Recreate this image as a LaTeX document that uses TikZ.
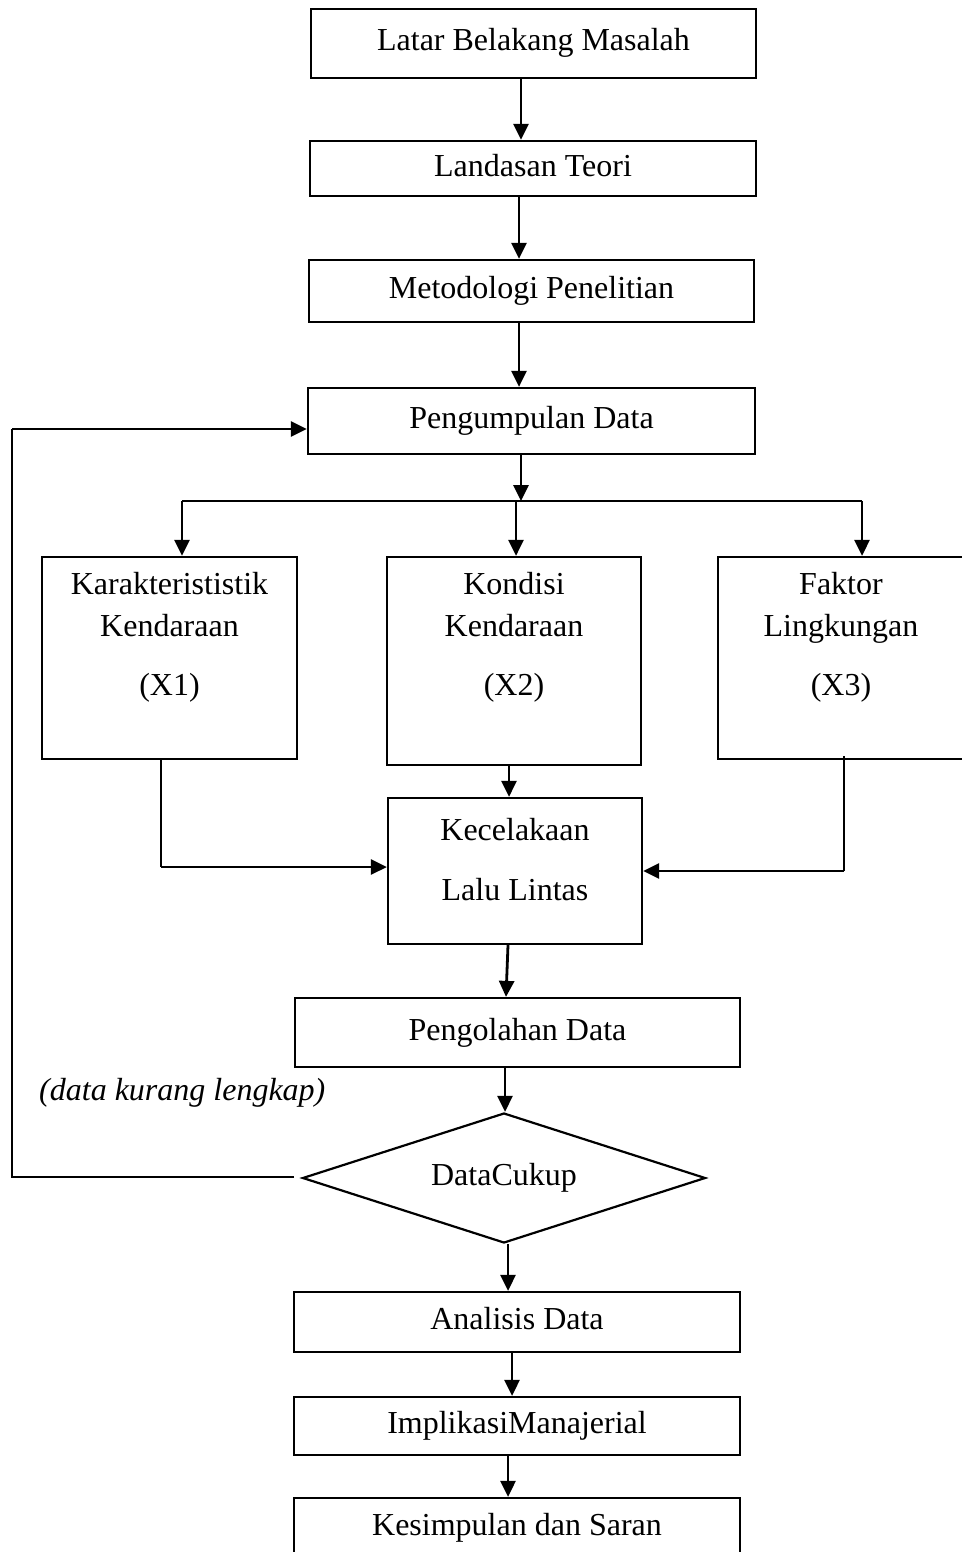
\documentclass[tikz,border=0pt]{standalone}
\usepackage{fontspec}
\setmainfont{Liberation Serif}
\usetikzlibrary{shapes.geometric,arrows.meta}
\begin{document}
\begin{tikzpicture}[x=1pt,y=-1pt,
  box/.style={draw, line width=2.2pt, rectangle, inner sep=0pt, font=\fontsize{32}{42}\selectfont, text height=22pt, text depth=7pt},
  txt/.style={align=center, inner sep=0pt, font=\fontsize{32}{42}\selectfont},
  arr/.style={line width=2.8pt, -{Triangle[length=16pt,width=15pt]}},
  ln/.style={line width=2.8pt},
  thinln/.style={line width=1.5pt}]
\useasboundingbox (0,0) rectangle (961,1552);

% main boxes
\node[box, minimum width=445pt, minimum height=69pt] (latar) at (533.5,43.5) {Latar Belakang Masalah};
\node[box, minimum width=446pt, minimum height=55pt] (land) at (533,168.5) {Landasan Teori};
\node[box, minimum width=445pt, minimum height=62pt] (meto) at (531.5,291) {Metodologi Penelitian};
\node[box, minimum width=447pt, minimum height=66pt] (peng) at (531.5,421) {Pengumpulan Data};

\node[box, minimum width=255pt, minimum height=202pt] (kar) at (169.5,658) {};
\node[box, minimum width=254pt, minimum height=208pt] (kon) at (514,661) {};
\node[box, minimum width=246pt, minimum height=202pt] (fak) at (841,658) {};
\node[txt] (kart) at (169.5,637.5) {Karakterististik\\Kendaraan\\[17pt](X1)};
\node[txt] (kont) at (514,637.5) {Kondisi\\Kendaraan\\[17pt](X2)};
\node[txt] (fakt) at (841,637.5) {Faktor\\Lingkungan\\[17pt](X3)};

\node[box, minimum width=254pt, minimum height=146pt] (kec) at (515,871) {};
\node[txt] (kect) at (515,860) {Kecelakaan\\[18pt]Lalu Lintas};

\node[box, minimum width=445pt, minimum height=69pt] (pengo) at (517.5,1032.5) {Pengolahan Data};
\node[draw, line width=2.2pt, diamond, aspect=3.1, minimum width=403pt, minimum height=130pt, inner sep=0pt, font=\fontsize{32}{42}\selectfont] (dc) at (504,1178) {DataCukup};
\node[box, minimum width=446pt, minimum height=60pt] (ana) at (517,1322) {Analisis Data};
\node[box, minimum width=446pt, minimum height=58pt] (impl) at (517,1426) {ImplikasiManajerial};
\node[box, minimum width=446pt, minimum height=60pt] (kes) at (517,1528) {Kesimpulan dan Saran};

\node[anchor=west, inner sep=0pt, font=\fontsize{32}{42}\selectfont\itshape] (dkl) at (39,1093) {(data kurang lengkap)};

% column coordinates
\coordinate (c1) at (521,0);
\coordinate (c2) at (519,0);
\coordinate (br) at (521,501);
\coordinate (bl) at (182,501);
\coordinate (bm) at (516,501);
\coordinate (brr) at (862,501);
\coordinate (k1) at (161,867);
\coordinate (f1) at (844,871);
\coordinate (c3) at (509,0);
\coordinate (c4) at (505,0);
\coordinate (c5) at (508,0);
\coordinate (c6) at (512,0);
\coordinate (fbb) at (12,1177);
\coordinate (fbt) at (12,429);
\coordinate (fbs) at (294,1177);

% connectors
\draw[arr] (latar.south -| c1) -- (land.north -| c1);
\draw[arr] (land.south -| c2) -- (meto.north -| c2);
\draw[arr] (meto.south -| c2) -- (peng.north -| c2);
\draw[arr] (peng.south -| br) -- (br);
\draw[ln] (bl) -- (brr);
\draw[arr] (bl) -- (kar.north -| bl);
\draw[arr] (bm) -- (kon.north -| bm);
\draw[arr] (brr) -- (fak.north -| brr);

\draw[thinln] (kar.south -| k1) -- (k1);
\draw[ln] (k1) -- ([xshift=-14pt]kec.west |- k1);
\draw[arr] (k1) -- (kec.west |- k1);
\draw[arr] (kon.south -| c3) -- (kec.north -| c3);
\draw[thinln] ([yshift=4pt]fak.south -| f1) -- (f1);
\draw[arr] (f1) -- (kec.east |- f1);

\draw[arr] ([xshift=-7pt]kec.south) -- ([xshift=-11.5pt]pengo.north);
\draw[arr] (pengo.south -| c4) -- (dc.north -| c4);
\draw[arr] (dc.south -| c5) -- (ana.north -| c5);
\draw[arr] (ana.south -| c6) -- (impl.north -| c6);
\draw[arr] (impl.south -| c5) -- (kes.north -| c5);

% feedback loop
\draw[thinln] (fbs) -- (fbb) -- (fbt);
\draw[arr] (fbt) -- (peng.west |- fbt);
\end{tikzpicture}
\end{document}
